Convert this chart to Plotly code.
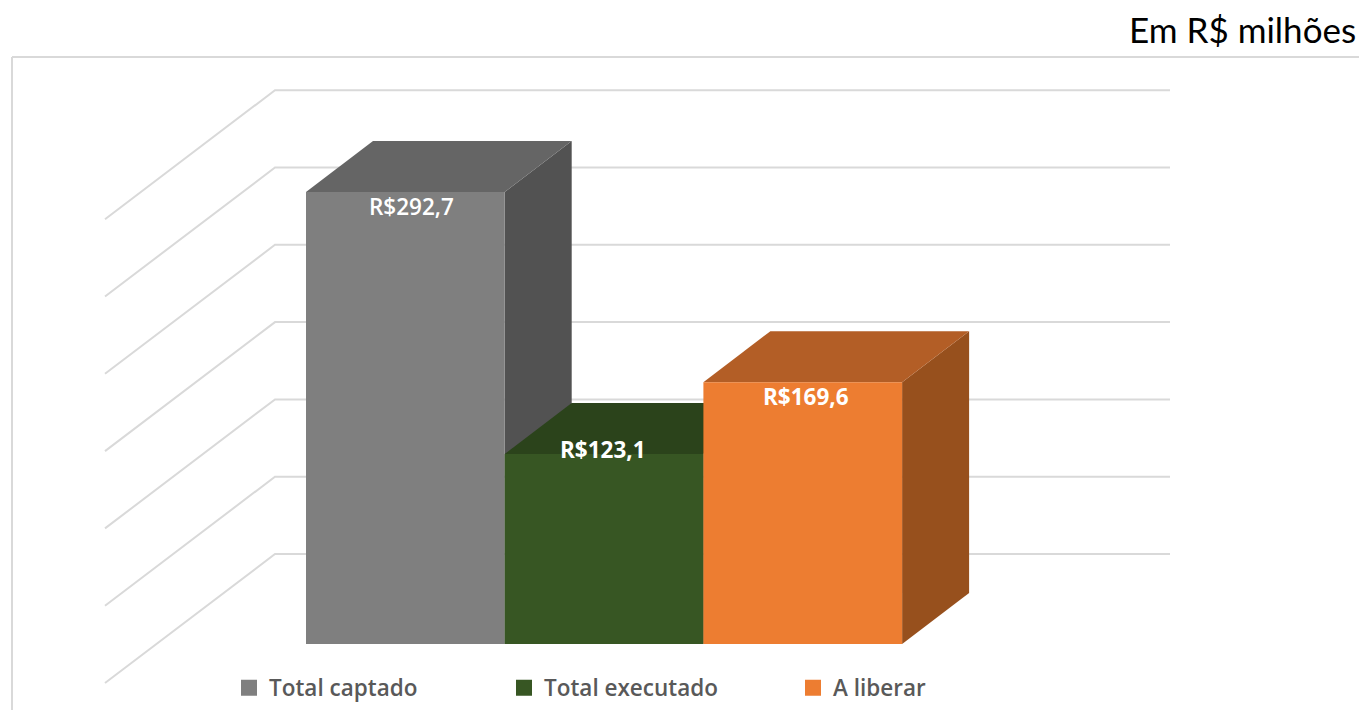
import plotly.graph_objects as go

categories = ["Total captado", "Total executado", "A liberar"]
values = [292.7, 123.1, 169.6]
labels = ["R$292,7", "R$123,1", "R$169,6"]
grid_values = [0, 50, 100, 150, 200, 250, 300]
front_colors = ["#7f7f7f", "#375623", "#ed7d31"]
top_colors = ["#656565", "#2b431b", "#b35e26"]
side_colors = ["#525252", "#2b431b", "#97501d"]

W, H = 1359, 710
X0, Y0 = 306, 644          # pixel of x=0, value=0
PX_X, PX_Y = 198.7, 1.544  # pixels per category / per unit of value


def dx(p):
    return p / PX_X


def dy(p):
    return p / PX_Y


BAR_DX, BAR_DY = dx(67), dy(51)

fig = go.Figure()
for i, (c, v, col) in enumerate(zip(categories, values, front_colors)):
    fig.add_trace(go.Bar(x=[i + 0.5], y=[v], width=1, marker=dict(color=col, line_width=0),
                         showlegend=False, hoverinfo="skip"))
for i, (c, col) in enumerate(zip(categories, front_colors)):
    fig.add_trace(go.Scatter(x=[None], y=[None], mode="markers", name=c,
                             marker=dict(symbol="square", size=16, color=col),
                             legend="legend" if i == 0 else f"legend{i+1}"))

shapes = []


def poly(points, color):
    path = "M " + " L ".join(f"{x},{y}" for x, y in points) + " Z"
    shapes.append(dict(type="path", path=path, xref="x", yref="y", layer="below",
                       fillcolor=color, line_width=0))


# frame
for a in [(12, 57, W, 57), (12, 57, 12, H)]:
    shapes.append(dict(type="line", xref="paper", yref="paper", layer="below",
                       x0=a[0] / W, x1=a[2] / W, y0=1 - a[1] / H, y1=1 - a[3] / H,
                       line=dict(color="#d9d9d9", width=2)))

# gridlines on side and back walls
for g in grid_values:
    gv = g * 1.546 / PX_Y
    pts = [(dx(105 - X0), gv + dy(-39)), (dx(275 - X0), gv + dy(90)), (dx(1170 - X0), gv + dy(90))]
    path = "M " + " L ".join(f"{x},{y}" for x, y in pts)
    shapes.append(dict(type="path", path=path, xref="x", yref="y", layer="below",
                       line=dict(color="#d9d9d9", width=2)))

# depth faces, back to front
for i, v in enumerate(values):
    poly([(i + 1, 0), (i + 1 + BAR_DX, BAR_DY), (i + 1 + BAR_DX, v + BAR_DY), (i + 1, v)], side_colors[i])
    poly([(i, v), (i + BAR_DX, v + BAR_DY), (i + 1 + BAR_DX, v + BAR_DY), (i + 1, v)], top_colors[i])

label_offsets_y = [dy(-14), dy(4), dy(-14)]
label_offsets_x = [dx(6), dx(-1), dx(3)]
label_weights = [600, 700, 700]
annotations = [dict(x=i + 0.5 + ox, y=v + oy, text=t, showarrow=False, xref="x", yref="y",
                    font=dict(family="Open Sans", size=22.5, color="#ffffff", weight=w))
               for i, (v, t, oy, ox, w) in enumerate(zip(values, labels, label_offsets_y,
                                                         label_offsets_x, label_weights))]
annotations.append(dict(x=1358 / W, y=1 - 29 / H, xref="paper", yref="paper", text="Em R$ milhões",
                        showarrow=False, xanchor="right", yanchor="middle",
                        font=dict(family="Lato", size=35, color="#000000")))
fig.update_layout(annotations=annotations, shapes=shapes)

legend_font = dict(family="Open Sans", size=22.5, color="#595959", weight=600)
legend_common = dict(orientation="h", yanchor="middle", xanchor="left", y=1 - 688 / H,
                     font=legend_font, bgcolor="rgba(0,0,0,0)")
fig.update_layout(
    width=W, height=H, margin=dict(l=0, r=0, t=0, b=0),
    paper_bgcolor="#ffffff", plot_bgcolor="#ffffff",
    barmode="overlay",
    xaxis=dict(visible=False, range=[-X0 / PX_X, (W - X0) / PX_X]),
    yaxis=dict(visible=False, range=[(Y0 - H) / PX_Y, Y0 / PX_Y]),
    legend=dict(x=(269 - 40) / W, **legend_common),
    legend2=dict(x=(544 - 40) / W, **legend_common),
    legend3=dict(x=(833 - 40) / W, **legend_common),
)

fig.write_html("out.html", config={"displayModeBar": False},
               post_script="document.body.style.margin='0';")
